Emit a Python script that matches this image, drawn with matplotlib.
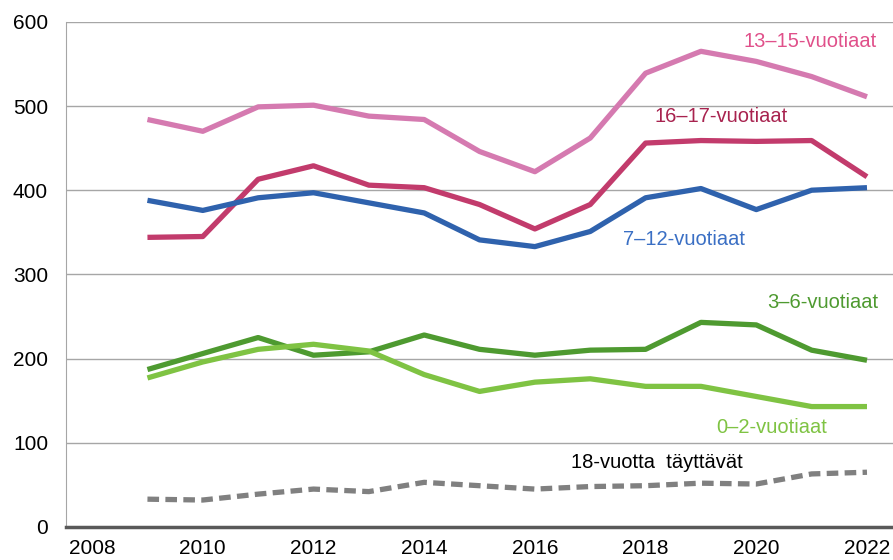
import matplotlib
matplotlib.use("Agg")
import matplotlib.pyplot as plt

plt.rcParams['font.family'] = ['Liberation Sans', 'DejaVu Sans']

years = list(range(2009, 2023))

v13_15 = [484, 470, 499, 501, 488, 484, 446, 422, 462, 539, 565, 553, 535, 511]
v16_17 = [344, 345, 413, 429, 406, 403, 383, 354, 383, 456, 459, 458, 459, 416]
v7_12 = [388, 376, 391, 397, 385, 373, 341, 333, 351, 391, 402, 377, 400, 403]
v3_6 = [187, 206, 225, 204, 208, 228, 211, 204, 210, 211, 243, 240, 210, 198]
v0_2 = [177, 196, 211, 217, 209, 181, 161, 172, 176, 167, 167, 155, 143, 143]
v18 = [33, 32, 39, 45, 42, 53, 49, 45, 48, 49, 52, 51, 63, 65]

xticks = [2008, 2010, 2012, 2014, 2016, 2018, 2020, 2022]
yticks = [0, 100, 200, 300, 400, 500, 600]

fig = plt.figure(figsize=(8.93, 5.60), dpi=100)
ax = fig.add_axes([0.074, 0.059, 0.926, 0.902])

lw = 3.8
ax.plot(years, v13_15, color='#d57ab0', lw=lw, solid_capstyle='butt')
ax.plot(years, v16_17, color='#c23b6c', lw=lw, solid_capstyle='butt')
ax.plot(years, v7_12, color='#2f62ad', lw=lw, solid_capstyle='butt')
ax.plot(years, v3_6, color='#4e9a30', lw=lw, solid_capstyle='butt')
ax.plot(years, v0_2, color='#7fc343', lw=lw, solid_capstyle='butt')
ax.plot(years, v18, color='#808080', lw=lw, ls=(0, (2.2, 1.2)), dash_capstyle='butt')

fs = 14.5
ax.text(2020.97, 577, '13–15-vuotiaat', color='#e0508a', fontsize=fs, ha='center', va='center')
ax.text(2019.37, 487, '16–17-vuotiaat', color='#a8234f', fontsize=fs, ha='center', va='center')
ax.text(2018.69, 342, '7–12-vuotiaat', color='#3a6fc4', fontsize=fs, ha='center', va='center')
ax.text(2021.2, 267, '3–6-vuotiaat', color='#4e9a30', fontsize=fs, ha='center', va='center')
ax.text(2020.28, 118, '0–2-vuotiaat', color='#7fc343', fontsize=fs, ha='center', va='center')
ax.text(2018.2, 77, '18-vuotta  täyttävät', color='#000000', fontsize=fs, ha='center', va='center')

ax.set_xlim(2007.53, 2022.47)
ax.set_ylim(0, 600)
ax.set_xticks(xticks)
ax.set_yticks(yticks)
ax.tick_params(axis='both', length=0, labelsize=15, colors='#000000')
ax.tick_params(axis='x', pad=9)
ax.tick_params(axis='y', pad=13)
ax.yaxis.grid(True, color='#a6a6a6', lw=1)
ax.set_axisbelow(True)
for s in ['top', 'right']:
    ax.spines[s].set_visible(False)
ax.spines['left'].set_color('#a6a6a6')
ax.spines['bottom'].set_color('#595959')
ax.spines['bottom'].set_linewidth(2.5)

fig.savefig('out.png', dpi=100)
